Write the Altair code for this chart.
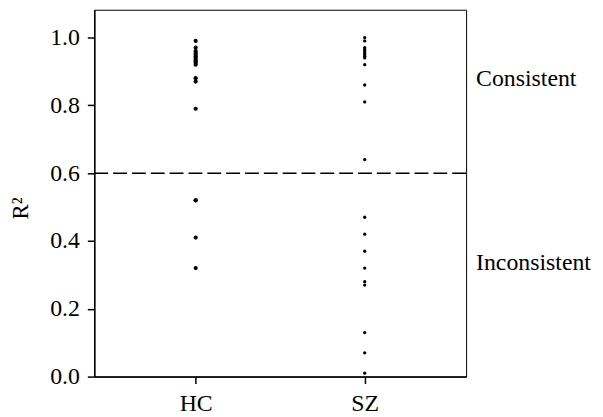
import altair as alt
import pandas as pd

groups = ["HC", "SZ"]
hc_values = [0.99, 0.97, 0.96, 0.955, 0.95, 0.945, 0.94, 0.935, 0.93, 0.925, 0.92,
             0.88, 0.87, 0.79, 0.52, 0.52, 0.41, 0.32]
sz_values = [1.0, 0.99, 0.97, 0.965, 0.96, 0.955, 0.95, 0.945, 0.94, 0.92, 0.86,
             0.81, 0.64, 0.47, 0.42, 0.37, 0.32, 0.28, 0.27, 0.13, 0.07, 0.01]
threshold = [0.6]
zone_labels = ["Consistent", "Inconsistent"]
zone_label_values = [0.877, 0.336]
y_ticks = [0.0, 0.2, 0.4, 0.6, 0.8, 1.0]

FONT = "Liberation Serif"

hc_df = pd.DataFrame({"group": "HC", "r2": hc_values})
sz_df = pd.DataFrame({"group": "SZ", "r2": sz_values})
thr_df = pd.DataFrame({"r2": threshold})
lab_df = pd.DataFrame({"label": zone_labels, "r2": zone_label_values})

W, H = 375, 370
yscale = alt.Scale(domain=[0, 1.082], nice=False, zero=True)
xscale = alt.Scale(type="point", domain=groups, padding=0.6)

y_axis = alt.Axis(values=y_ticks, format=".1f", title="R²", grid=False,
                  tickSize=7, labelPadding=8, titleFontSize=23,
                  titleX=-62, titleY=200)

x_enc = alt.X("group:N", scale=xscale,
              axis=alt.Axis(title=None, labelAngle=0, tickSize=7, labelPadding=8, grid=False))

hc_pts = alt.Chart(hc_df).mark_circle(size=18, color="black", opacity=1).encode(
    x=x_enc, y=alt.Y("r2:Q", scale=yscale, axis=y_axis))
sz_pts = alt.Chart(sz_df).mark_circle(size=11, color="black", opacity=1).encode(
    x=x_enc, y=alt.Y("r2:Q", scale=yscale, axis=y_axis))

rule = alt.Chart(thr_df).mark_rule(color="black", strokeWidth=1.5, strokeDash=[14, 5]).encode(
    y=alt.Y("r2:Q", scale=yscale))

text = alt.Chart(lab_df).mark_text(align="left", baseline="middle", font=FONT,
                                   fontSize=24, color="black").encode(
    x=alt.value(W + 10), y=alt.Y("r2:Q", scale=yscale), text="label:N")

chart = alt.layer(rule, hc_pts, sz_pts, text).properties(
    width=W, height=H,
    autosize=alt.AutoSizeParams(type="none"),
    padding={"left": 87, "top": 0, "right": 130, "bottom": 40},
).configure_view(
    stroke="black", strokeWidth=1
).configure_axis(
    labelFont=FONT, titleFont=FONT, labelFontSize=24, titleFontSize=24,
    labelColor="black", titleColor="black", titleFontWeight="normal",
    domainColor="black", domainWidth=1.5, tickColor="black", tickWidth=1.5,
)

chart.save("out.html", embed_options={"renderer": "svg", "actions": False})
